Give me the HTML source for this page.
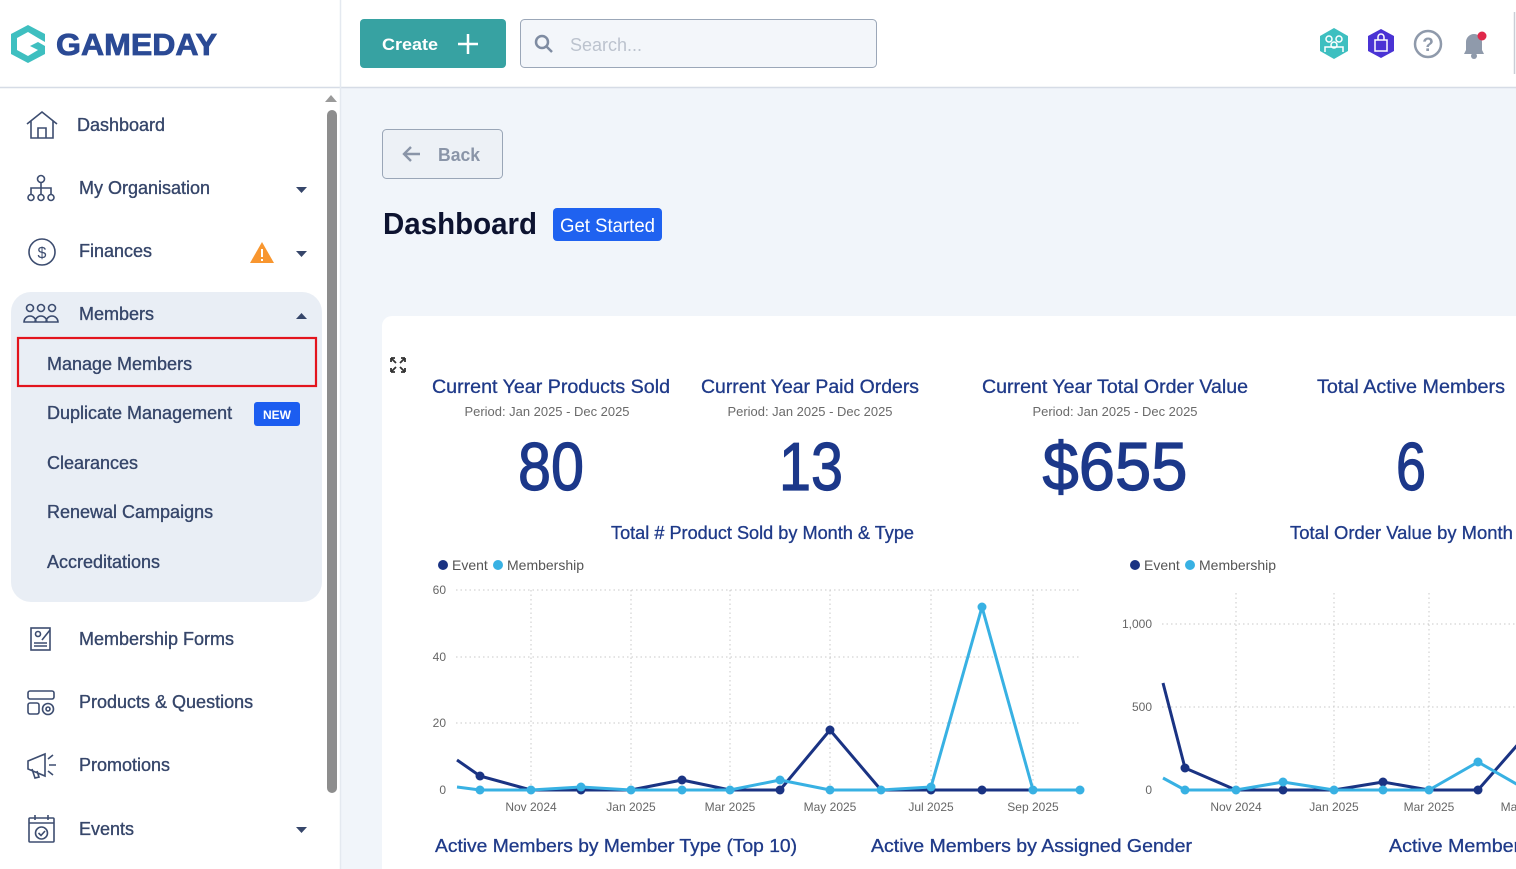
<!DOCTYPE html>
<html><head><meta charset="utf-8"><style>
html,body{margin:0;padding:0;width:1516px;height:869px;overflow:hidden;background:#fff;}
svg{display:block;overflow:hidden;}
text{font-family:"Liberation Sans",sans-serif;}
</style></head><body>
<svg width="1516" height="869" viewBox="0 0 1516 869" xmlns="http://www.w3.org/2000/svg">
<defs><clipPath id="pg"><rect x="0" y="0" width="1516" height="869"/></clipPath></defs>
<g clip-path="url(#pg)">
<!-- backgrounds -->
<rect x="0" y="0" width="1516" height="869" fill="#ffffff"/>
<rect x="341" y="88" width="1175" height="781" fill="#f1f5fa"/>
<line x1="0" y1="87.5" x2="1516" y2="87.5" stroke="#d6dce6" stroke-width="1.5"/>
<line x1="340.5" y1="0" x2="340.5" y2="869" stroke="#e4e9f0" stroke-width="1.5"/>
<line x1="1514.5" y1="12" x2="1514.5" y2="74" stroke="#c9ced6" stroke-width="1.5"/>

<!-- logo -->
<g>
<path d="M28 25 L45 34 L45 42 L38 38 L28 32 L17 38 L17 50 L28 56 L38 50 L30 46 L38 42 L45 46 L45 54 L28 63 L11 54 L11 34 Z" fill="#3ebfc0"/>
<text x="56" y="55" font-size="31" font-weight="bold" fill="#2b4a95" stroke="#2b4a95" stroke-width="0.8" textLength="161" lengthAdjust="spacingAndGlyphs">GAMEDAY</text>
</g>

<!-- create button -->
<rect x="360" y="19" width="146" height="49" rx="4" fill="#37a2a2"/>
<text x="382" y="50" font-size="17" font-weight="bold" fill="#fff" textLength="56" lengthAdjust="spacingAndGlyphs">Create</text>
<line x1="458" y1="44" x2="478" y2="44" stroke="#fff" stroke-width="2.5"/>
<line x1="468" y1="34" x2="468" y2="54" stroke="#fff" stroke-width="2.5"/>

<!-- search -->
<rect x="520.5" y="19.5" width="356" height="48" rx="4" fill="#f3f6fa" stroke="#9ba7b8"/>
<circle cx="542" cy="42" r="6" fill="none" stroke="#7f8ca2" stroke-width="2.5"/>
<line x1="546.5" y1="46.5" x2="552" y2="52" stroke="#7f8ca2" stroke-width="2.5"/>
<text x="570" y="51" font-size="18" fill="#bcc3ce">Search...</text>

<!-- right icons -->
<polygon points="1334,28 1348,36 1348,51 1334,59 1320,51 1320,36" fill="#3ebfc0"/>
<circle cx="1329" cy="39" r="3" fill="none" stroke="#fff" stroke-width="1.5"/>
<circle cx="1339" cy="39" r="3" fill="none" stroke="#fff" stroke-width="1.5"/>
<circle cx="1334" cy="45" r="3" fill="none" stroke="#fff" stroke-width="1.5"/>
<path d="M1325 52 v-5 h18 v5" fill="none" stroke="#fff" stroke-width="1.5"/>
<polygon points="1381,29 1394,36 1394,51 1381,58 1368,51 1368,36" fill="#4a33d4"/>
<rect x="1375" y="40" width="12" height="11" fill="none" stroke="#fff" stroke-width="1.5"/>
<path d="M1378 40 v-3 a3 3 0 0 1 6 0 v3" fill="none" stroke="#fff" stroke-width="1.5"/>
<circle cx="1428" cy="44" r="13" fill="none" stroke="#8f9aab" stroke-width="2.5"/>
<text x="1428" y="51" font-size="19" font-weight="bold" fill="#8f9aab" text-anchor="middle">?</text>
<path d="M1464 54 L1466 50 L1466 42 A8 8 0 0 1 1482 42 L1482 50 L1484 54 Z" fill="#8f9aab"/>
<circle cx="1474" cy="56" r="3" fill="#8f9aab"/>
<circle cx="1482" cy="36" r="4.5" fill="#e0284a"/>

<!-- sidebar scrollbar -->
<polygon points="325,102 331,95 337,102" fill="#9a9a9a"/>
<rect x="327" y="110" width="10" height="683" rx="5" fill="#8d8d8d"/>

<!-- members box -->
<rect x="11" y="292" width="311" height="310" rx="20" fill="#e9eef5"/>
<rect x="18" y="338" width="298" height="48" fill="none" stroke="#e3141d" stroke-width="2.2"/>

<g font-size="18" fill="#36466a" stroke="#36466a" stroke-width="0.35">
<text x="77" y="131">Dashboard</text>
<text x="79" y="194">My Organisation</text>
<text x="79" y="257">Finances</text>
<text x="79" y="320">Members</text>
<text x="47" y="370">Manage Members</text>
<text x="47" y="419">Duplicate Management</text>
<text x="47" y="469">Clearances</text>
<text x="47" y="518">Renewal Campaigns</text>
<text x="47" y="568">Accreditations</text>
<text x="79" y="645">Membership Forms</text>
<text x="79" y="708">Products &amp; Questions</text>
<text x="79" y="771">Promotions</text>
<text x="79" y="835">Events</text>
</g>
<rect x="254" y="402" width="46" height="24" rx="3" fill="#1c5df0"/>
<text x="277" y="419" font-size="12" font-weight="bold" fill="#fff" text-anchor="middle">NEW</text>
<!-- carets -->
<g fill="#36466a">
<polygon points="296,187 307,187 301.5,193"/>
<polygon points="296,251 307,251 301.5,257"/>
<polygon points="296,319 307,319 301.5,313"/>
<polygon points="296,827 307,827 301.5,833"/>
</g>
<!-- warning -->
<polygon points="262,242 274,263 250,263" fill="#f8962f"/>
<rect x="261" y="249" width="2" height="8" fill="#fff"/><rect x="261" y="259" width="2" height="2" fill="#fff"/>

<!-- sidebar icons -->
<g fill="none" stroke="#3d4d70" stroke-width="1.6">
<path d="M27 124 L42 112 L57 124 M31 121 V138 H53 V121 M38 138 V128 H46 V138"/>
<circle cx="41" cy="179" r="3.5"/><path d="M41 183 V188 M31 194 V188 H51 V194 M41 188 V194"/>
<circle cx="31" cy="197.5" r="3"/><circle cx="41" cy="197.5" r="3"/><circle cx="51" cy="197.5" r="3"/>
<circle cx="42" cy="252" r="13"/>
<text x="42" y="258" font-size="16" fill="#3d4d70" stroke="none" text-anchor="middle">$</text>
<circle cx="30" cy="308" r="3.5"/><circle cx="41" cy="308" r="3.5"/><circle cx="52" cy="308" r="3.5"/>
<path d="M24 322 a6 6 0 0 1 12 0 Z M35 322 a6 6 0 0 1 12 0 Z M46 322 a6 6 0 0 1 12 0 Z"/>
<rect x="31" y="628" width="19" height="22"/><path d="M34 643 H47 M34 646 H47 M50 630 L42 640"/>
<circle cx="38" cy="634" r="2.5"/>
<rect x="28" y="691" width="26" height="8" rx="2"/><rect x="28" y="703" width="11" height="11" rx="2"/>
<circle cx="48" cy="709" r="5.5"/><circle cx="48" cy="709" r="2"/>
<path d="M28 761 L45 754 V776 L28 769 Z M32 769 L35 778 L39 777 L37 771 M49 765 H56 M48 759 L53 755 M48 771 L53 775"/>
<rect x="29" y="818" width="25" height="24" rx="1"/><path d="M29 823 H54 M35 815 V820 M48 815 V820"/>
<circle cx="41.5" cy="833" r="6"/><path d="M38.5 833 L41 835.5 L45 831"/>
</g>

<!-- back button -->
<rect x="382.5" y="129.5" width="120" height="49" rx="4" fill="#edf1f6" stroke="#9aa6b7"/>
<path d="M420 154 H404 M411 147 L404 154 L411 161" fill="none" stroke="#8a95a8" stroke-width="2.4"/>
<text x="438" y="161" font-size="18" font-weight="bold" fill="#8a95a8" textLength="42" lengthAdjust="spacingAndGlyphs">Back</text>

<text x="383" y="234" font-size="31" font-weight="bold" fill="#0d1330" textLength="154" lengthAdjust="spacingAndGlyphs">Dashboard</text>
<rect x="553" y="208" width="109" height="33" rx="4" fill="#1f62f0"/>
<text x="560" y="232" font-size="19" fill="#fff" textLength="95" lengthAdjust="spacingAndGlyphs">Get Started</text>

<!-- card -->
<path d="M392 316 H1516 V869 H382 V326 A10 10 0 0 1 392 316 Z" fill="#ffffff"/>
<!-- expand icon -->
<g fill="none" stroke="#333" stroke-width="1.8">
<path d="M391 358 L396 363 M391 358 H395 M391 358 V362"/>
<path d="M405 358 L400 363 M405 358 H401 M405 358 V362"/>
<path d="M391 372 L396 367 M391 372 H395 M391 372 V368"/>
<path d="M405 372 L400 367 M405 372 H401 M405 372 V368"/>
</g>

<!-- KPIs -->
<g font-size="19" fill="#1f3a89" stroke="#1f3a89" stroke-width="0.3" text-anchor="middle">
<text x="551" y="393" textLength="238" lengthAdjust="spacingAndGlyphs">Current Year Products Sold</text>
<text x="810" y="393" textLength="218" lengthAdjust="spacingAndGlyphs">Current Year Paid Orders</text>
<text x="1115" y="393" textLength="266" lengthAdjust="spacingAndGlyphs">Current Year Total Order Value</text>
<text x="1411" y="393" textLength="188" lengthAdjust="spacingAndGlyphs">Total Active Members</text>
</g>
<g font-size="13" fill="#6a6a6a" text-anchor="middle">
<text x="547" y="416" textLength="165" lengthAdjust="spacingAndGlyphs">Period: Jan 2025 - Dec 2025</text>
<text x="810" y="416" textLength="165" lengthAdjust="spacingAndGlyphs">Period: Jan 2025 - Dec 2025</text>
<text x="1115" y="416" textLength="165" lengthAdjust="spacingAndGlyphs">Period: Jan 2025 - Dec 2025</text>
</g>
<g font-size="68" fill="#1c388a" stroke="#1c388a" stroke-width="1.2" text-anchor="middle">
<text x="551" y="490" textLength="66" lengthAdjust="spacingAndGlyphs">80</text>
<text x="811" y="490" textLength="64" lengthAdjust="spacingAndGlyphs">13</text>
<text x="1115" y="490" textLength="145" lengthAdjust="spacingAndGlyphs">$655</text>
<text x="1411" y="490" textLength="30" lengthAdjust="spacingAndGlyphs">6</text>
</g>

<!-- chart titles -->
<g font-size="18" fill="#1f3a89" stroke="#1f3a89" stroke-width="0.3">
<text x="611" y="539" textLength="303" lengthAdjust="spacingAndGlyphs">Total # Product Sold by Month &amp; Type</text>
<text x="1290" y="539" textLength="285" lengthAdjust="spacingAndGlyphs">Total Order Value by Month &amp; Type</text>
<text x="435" y="852" textLength="362" lengthAdjust="spacingAndGlyphs">Active Members by Member Type (Top 10)</text>
<text x="871" y="852" textLength="321" lengthAdjust="spacingAndGlyphs">Active Members by Assigned Gender</text>
<text x="1389" y="852" textLength="215" lengthAdjust="spacingAndGlyphs">Active Members by Type</text>
</g>

<!-- legends -->
<g font-size="14" fill="#555">
<circle cx="443" cy="565" r="5" fill="#1a3383"/><text x="452" y="570">Event</text>
<circle cx="498" cy="565" r="5" fill="#38b1e3"/><text x="507" y="570">Membership</text>
<circle cx="1135" cy="565" r="5" fill="#1a3383"/><text x="1144" y="570">Event</text>
<circle cx="1190" cy="565" r="5" fill="#38b1e3"/><text x="1199" y="570">Membership</text>
</g>

<!-- chart 1 grid -->
<g stroke="#c8c8c8" stroke-width="1" stroke-dasharray="1.5,3">
<line x1="456" y1="590" x2="1080" y2="590"/>
<line x1="456" y1="657" x2="1080" y2="657"/>
<line x1="456" y1="723" x2="1080" y2="723"/>
<line x1="531" y1="590" x2="531" y2="790"/>
<line x1="631" y1="590" x2="631" y2="790"/>
<line x1="730" y1="590" x2="730" y2="790"/>
<line x1="830" y1="590" x2="830" y2="790"/>
<line x1="931" y1="590" x2="931" y2="790"/>
<line x1="1033" y1="590" x2="1033" y2="790"/>
</g>
<g font-size="12" fill="#666" text-anchor="end">
<text x="446" y="594">60</text>
<text x="446" y="661">40</text>
<text x="446" y="727">20</text>
<text x="446" y="794">0</text>
</g>
<g font-size="12" fill="#666" text-anchor="middle">
<text x="531" y="811">Nov 2024</text>
<text x="631" y="811">Jan 2025</text>
<text x="730" y="811">Mar 2025</text>
<text x="830" y="811">May 2025</text>
<text x="931" y="811">Jul 2025</text>
<text x="1033" y="811">Sep 2025</text>
</g>
<polyline fill="none" stroke="#1a3383" stroke-width="3" stroke-linejoin="round" points="457,760 480,776 531,790 581,790 631,790 682,780 730,790 780,790 830,730 881,790 931,790 982,790 1033,790 1080,790"/>
<polyline fill="none" stroke="#38b1e3" stroke-width="3" stroke-linejoin="round" points="457,787 480,790 531,790 581,787 631,790 682,790 730,790 780,780 830,790 881,790 931,787 982,607 1033,790 1080,790"/>
<g fill="#1a3383">
<circle cx="480" cy="776" r="4.5"/><circle cx="581" cy="790" r="4.5"/><circle cx="682" cy="780" r="4.5"/><circle cx="780" cy="790" r="4.5"/><circle cx="830" cy="730" r="4.5"/><circle cx="931" cy="790" r="4.5"/><circle cx="982" cy="790" r="4.5"/>
</g>
<g fill="#38b1e3">
<circle cx="480" cy="790" r="4.5"/><circle cx="531" cy="790" r="4.5"/><circle cx="581" cy="787" r="4.5"/><circle cx="631" cy="790" r="4.5"/><circle cx="682" cy="790" r="4.5"/><circle cx="730" cy="790" r="4.5"/><circle cx="780" cy="780" r="4.5"/><circle cx="830" cy="790" r="4.5"/><circle cx="881" cy="790" r="4.5"/><circle cx="931" cy="787" r="4.5"/><circle cx="982" cy="607" r="4.5"/><circle cx="1033" cy="790" r="4.5"/><circle cx="1080" cy="790" r="4.5"/>
</g>

<!-- chart 2 grid -->
<g stroke="#c8c8c8" stroke-width="1" stroke-dasharray="1.5,3">
<line x1="1162" y1="624" x2="1516" y2="624"/>
<line x1="1162" y1="707" x2="1516" y2="707"/>
<line x1="1236" y1="593" x2="1236" y2="790"/>
<line x1="1334" y1="593" x2="1334" y2="790"/>
<line x1="1429" y1="593" x2="1429" y2="790"/>
</g>
<g font-size="12" fill="#666" text-anchor="end">
<text x="1152" y="628">1,000</text>
<text x="1152" y="711">500</text>
<text x="1152" y="794">0</text>
</g>
<g font-size="12" fill="#666" text-anchor="middle">
<text x="1236" y="811">Nov 2024</text>
<text x="1334" y="811">Jan 2025</text>
<text x="1429" y="811">Mar 2025</text>
<text x="1527" y="811">May 2025</text>
</g>
<polyline fill="none" stroke="#1a3383" stroke-width="3" stroke-linejoin="round" points="1163,683 1185,768 1236,790 1283,790 1334,790 1383,782 1429,790 1478,790 1520,742"/>
<polyline fill="none" stroke="#38b1e3" stroke-width="3" stroke-linejoin="round" points="1163,778 1185,790 1236,790 1283,782 1334,790 1383,790 1429,790 1478,762 1520,786"/>
<g fill="#1a3383">
<circle cx="1185" cy="768" r="4.5"/><circle cx="1283" cy="790" r="4.5"/><circle cx="1383" cy="782" r="4.5"/><circle cx="1478" cy="790" r="4.5"/>
</g>
<g fill="#38b1e3">
<circle cx="1185" cy="790" r="4.5"/><circle cx="1236" cy="790" r="4.5"/><circle cx="1283" cy="782" r="4.5"/><circle cx="1334" cy="790" r="4.5"/><circle cx="1383" cy="790" r="4.5"/><circle cx="1429" cy="790" r="4.5"/><circle cx="1478" cy="762" r="4.5"/>
</g>
</g>
</svg>
</body></html>
